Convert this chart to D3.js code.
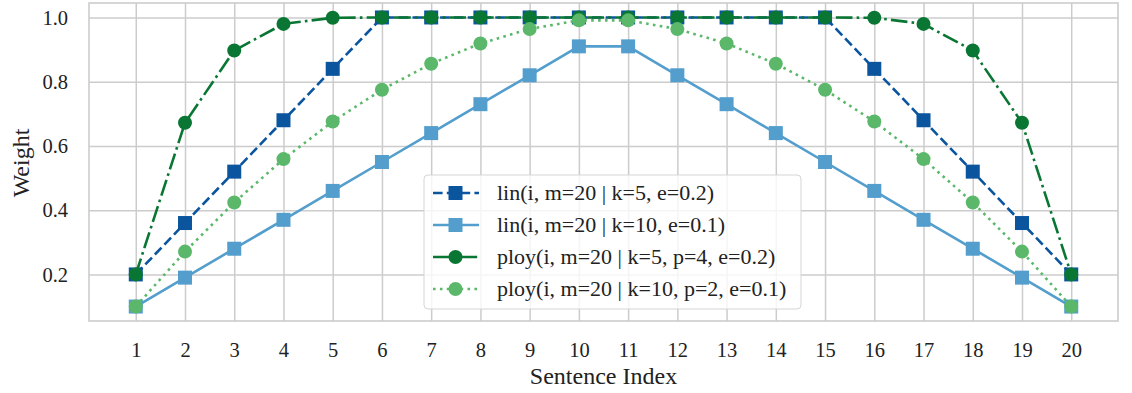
<!DOCTYPE html>
<html>
<head>
<meta charset="utf-8">
<script src="https://cdn.jsdelivr.net/npm/d3@7"></script>
<style>
  body { margin: 0; background: #fff; }
  svg text { font-family: "Liberation Serif", "Times New Roman", serif; fill: #222; }
</style>
</head>
<body>
<svg id="chart" width="1132" height="393"></svg>
<script>
// sentence indices
const sentenceIdx = d3.range(1, 21);
const xTicks = sentenceIdx;
const yTicks = [0.2, 0.4, 0.6, 0.8, 1.0];

// weights
const linK5 = [0.2, 0.36, 0.52, 0.68, 0.84, 1, 1, 1, 1, 1, 1, 1, 1, 1, 1, 0.84, 0.68, 0.52, 0.36, 0.2];
const linK10 = [0.1, 0.19, 0.28, 0.37, 0.46, 0.55, 0.64, 0.73, 0.82, 0.91, 0.91, 0.82, 0.73, 0.64, 0.55, 0.46, 0.37, 0.28, 0.19, 0.1];
const ployK5 = [0.2, 0.672, 0.897, 0.98, 0.999, 1, 1, 1, 1, 1, 1, 1, 1, 1, 1, 0.999, 0.98, 0.897, 0.672, 0.2];
const ployK10 = [0.1, 0.271, 0.424, 0.559, 0.676, 0.775, 0.856, 0.919, 0.964, 0.991, 0.991, 0.964, 0.919, 0.856, 0.775, 0.676, 0.559, 0.424, 0.271, 0.1];

const seriesNames = [
  'lin(i, m=20 | k=5, e=0.2)',
  'lin(i, m=20 | k=10, e=0.1)',
  'ploy(i, m=20 | k=5, p=4, e=0.2)',
  'ploy(i, m=20 | k=10, p=2, e=0.1)'
];

const series = [
  {name: seriesNames[0], values: linK5, color: '#0b559f', dash: '9.6,4.2', marker: 'square'},
  {name: seriesNames[1], values: linK10, color: '#539ecd', dash: null, marker: 'square'},
  {name: seriesNames[2], values: ployK5, color: '#0a7633', dash: '16.6,4.2,2.6,4.2', marker: 'circle'},
  {name: seriesNames[3], values: ployK10, color: '#5bb86a', dash: '2.6,4.3', marker: 'circle'}
];

const svg = d3.select('#chart');
const margin = {left: 89, right: 14, top: 3, bottom: 72};
const width = +svg.attr('width'), height = +svg.attr('height');
const innerWidth = width - margin.left - margin.right;
const innerHeight = height - margin.top - margin.bottom;

const viewPort = svg.append('g')
  .attr('transform', `translate(${margin.left}, ${margin.top})`);

const xScale = d3.scaleLinear().domain([0.05, 20.95]).range([0, innerWidth]);
const yScale = d3.scaleLinear().domain([0.055, 1.045]).range([innerHeight, 0]);

// grid + tick labels
const xAxis = d3.axisBottom(xScale).tickValues(xTicks).tickFormat(d3.format('d'))
  .tickSize(-innerHeight);
const yAxis = d3.axisLeft(yScale).tickValues(yTicks).tickFormat(d3.format('.1f'))
  .tickSize(-innerWidth);

const xAxisG = viewPort.append('g')
  .attr('transform', `translate(0, ${innerHeight})`)
  .call(xAxis);
const yAxisG = viewPort.append('g').call(yAxis);

[xAxisG, yAxisG].forEach(g => {
  g.attr('font-size', null).attr('font-family', null);
  g.select('.domain').remove();
  g.selectAll('.tick line').attr('stroke', '#cccccc').attr('stroke-width', 1.5);
  g.selectAll('.tick text').attr('font-size', 20.5).attr('fill', '#222');
});
xAxisG.selectAll('.tick text').attr('y', 36).attr('dy', 0);
yAxisG.selectAll('.tick text').attr('x', -21).attr('dy', '0.33em');

// frame
viewPort.append('rect')
  .attr('width', innerWidth).attr('height', innerHeight)
  .attr('fill', 'none').attr('stroke', '#cccccc').attr('stroke-width', 1.6);

const line = d3.line()
  .x((d, i) => xScale(sentenceIdx[i]))
  .y(d => yScale(d));

const markerSize = 14;
const drawMarker = function (g, s, cx, cy) {
  if (s.marker === 'square') {
    g.append('rect')
      .attr('x', cx - markerSize / 2).attr('y', cy - markerSize / 2)
      .attr('width', markerSize).attr('height', markerSize)
      .attr('fill', s.color);
  } else {
    g.append('circle')
      .attr('cx', cx).attr('cy', cy).attr('r', markerSize / 2)
      .attr('fill', s.color);
  }
};

series.forEach(s => {
  const g = viewPort.append('g');
  g.append('path')
    .attr('d', line(s.values))
    .attr('fill', 'none')
    .attr('stroke', s.color)
    .attr('stroke-width', 2.6)
    .attr('stroke-dasharray', s.dash);
  s.values.forEach((v, i) => drawMarker(g, s, xScale(sentenceIdx[i]), yScale(v)));
});

// legend
const legend = svg.append('g').attr('transform', 'translate(424, 175)');
legend.append('rect')
  .attr('width', 377).attr('height', 134).attr('rx', 4)
  .attr('fill', 'rgba(255,255,255,0.8)')
  .attr('stroke', '#d5d5d5').attr('stroke-width', 1);

series.forEach((s, i) => {
  const row = legend.append('g').attr('transform', `translate(0, ${18 + i * 32})`);
  row.append('line')
    .attr('x1', 9).attr('x2', 55).attr('y1', 0).attr('y2', 0)
    .attr('stroke', s.color).attr('stroke-width', 2.6)
    .attr('stroke-dasharray', s.dash);
  drawMarker(row, s, 31.5, 0);
  row.append('text')
    .attr('x', 73).attr('y', 0).attr('dy', '0.33em')
    .attr('font-size', 22)
    .text(s.name);
});

// axis titles
svg.append('text')
  .attr('x', margin.left + xScale(10.5)).attr('y', 384)
  .attr('text-anchor', 'middle')
  .attr('font-size', 24)
  .text('Sentence Index');

svg.append('text')
  .attr('transform', `translate(29, 163) rotate(-90)`)
  .attr('text-anchor', 'middle')
  .attr('font-size', 24)
  .text('Weight');
</script>
</body>
</html>
